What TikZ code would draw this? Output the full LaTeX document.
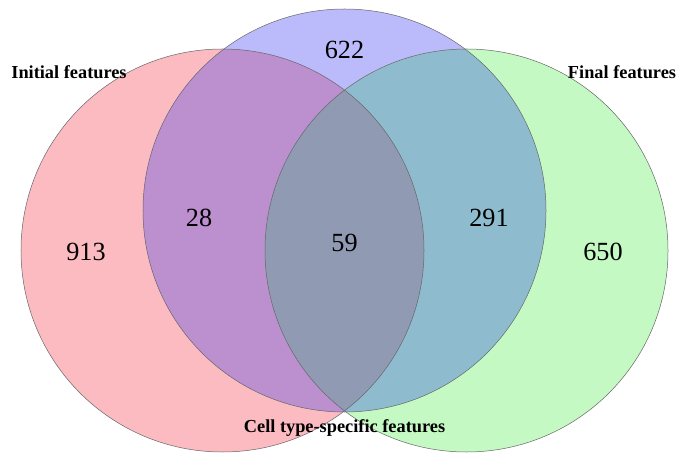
\documentclass[tikz,border=0pt]{standalone}
\usepackage{fontspec}
\setmainfont{Liberation Serif}
\definecolor{ronly}{RGB}{251,187,192}
\definecolor{bonly}{RGB}{187,187,251}
\definecolor{gonly}{RGB}{196,249,196}
\definecolor{rbcol}{RGB}{188,143,207}
\definecolor{bgcol}{RGB}{143,187,207}
\definecolor{rgcol}{RGB}{220,200,170}
\definecolor{rbgcol}{RGB}{144,155,179}
\begin{document}
\begin{tikzpicture}[x=1bp,y=-1bp,
  outline/.style={draw=black!60, line width=0.5bp},
  count/.style={font=\fontsize{26.3}{30}\selectfont, inner sep=0pt, anchor=base},
  setlabel/.style={font=\bfseries\fontsize{18.4}{21}\selectfont, inner sep=0pt, anchor=base}]
\useasboundingbox (0,0) rectangle (678,454);
\def\rad{201.5bp}
\coordinate (cR) at (222.5,250.5);
\coordinate (cB) at (344.5,210.5);
\coordinate (cG) at (466.5,250.5);
% single-set fills
\fill[ronly] (cR) circle[radius=\rad];
\fill[bonly] (cB) circle[radius=\rad];
\fill[gonly] (cG) circle[radius=\rad];
% pairwise overlaps
\begin{scope}
  \clip (cR) circle[radius=\rad];
  \fill[rgcol] (cG) circle[radius=\rad];
  \fill[rbcol] (cB) circle[radius=\rad];
\end{scope}
\begin{scope}
  \clip (cB) circle[radius=\rad];
  \fill[bgcol] (cG) circle[radius=\rad];
\end{scope}
% triple overlap
\begin{scope}
  \clip (cR) circle[radius=\rad];
  \clip (cB) circle[radius=\rad];
  \fill[rbgcol] (cG) circle[radius=\rad];
\end{scope}
% outlines
\draw[outline] (cR) circle[radius=\rad];
\draw[outline] (cB) circle[radius=\rad];
\draw[outline] (cG) circle[radius=\rad];
% counts
\node[count] (n913) at (86,260.5) {913};
\node[count] (n622) at (344.5,59) {622};
\node[count] (n650) at (603,260.5) {650};
\node[count] (n28) at (199,227) {28};
\node[count] (n291) at (489,227) {291};
\node[count] (n59) at (344.5,252) {59};
% set labels
\node[setlabel] (lInit) at (69,78.5) {Initial features};
\node[setlabel] (lFinal) at (622,79) {Final features};
\node[setlabel] (lCell) at (344.5,432.5) {Cell type-specific features};
\end{tikzpicture}
\end{document}
